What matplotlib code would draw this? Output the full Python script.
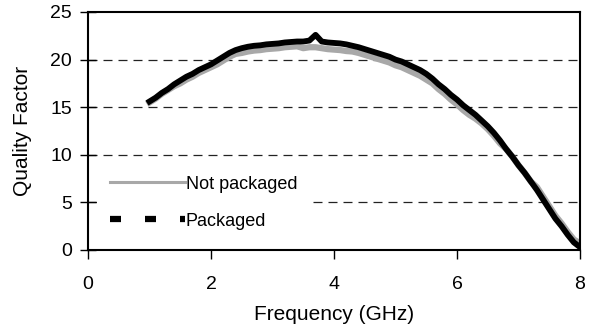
import matplotlib
matplotlib.use("Agg")
import matplotlib.pyplot as plt
from matplotlib.lines import Line2D

plt.rcParams['font.family'] = ['Liberation Sans', 'DejaVu Sans']

freq = [1.0, 1.1, 1.2, 1.3, 1.4, 1.5, 1.6, 1.7, 1.8, 1.9,
        2.0, 2.1, 2.2, 2.3, 2.4, 2.5, 2.6, 2.7, 2.8, 2.9,
        3.0, 3.1, 3.2, 3.3, 3.4, 3.5, 3.6, 3.7, 3.8, 3.9,
        4.0, 4.1, 4.2, 4.3, 4.4, 4.5, 4.6, 4.7, 4.8, 4.9,
        5.0, 5.1, 5.2, 5.3, 5.4, 5.5, 5.6, 5.7, 5.8, 5.9,
        6.0, 6.1, 6.2, 6.3, 6.4, 6.5, 6.6, 6.7, 6.8, 6.9,
        7.0, 7.1, 7.2, 7.3, 7.4, 7.5, 7.6, 7.7, 7.8, 7.9, 8.0]

q_packaged = [15.6, 16.0, 16.5, 16.9, 17.4, 17.8, 18.2, 18.5, 18.9, 19.2,
              19.5, 19.9, 20.3, 20.7, 21.0, 21.2, 21.35, 21.45, 21.5, 21.6,
              21.65, 21.7, 21.8, 21.85, 21.9, 21.9, 22.0, 22.6, 21.9, 21.8,
              21.75, 21.7, 21.6, 21.45, 21.3, 21.1, 20.9, 20.7, 20.5, 20.3,
              20.0, 19.8, 19.5, 19.2, 18.9, 18.5, 18.0, 17.4, 16.9, 16.3,
              15.8, 15.2, 14.7, 14.2, 13.6, 13.0, 12.3, 11.5, 10.6, 9.8,
              8.9, 8.1, 7.2, 6.3, 5.3, 4.3, 3.3, 2.5, 1.6, 0.8, 0.3]

q_not_packaged = [15.5, 15.9, 16.4, 16.8, 17.2, 17.5, 17.9, 18.2, 18.6, 18.9,
                  19.2, 19.5, 19.9, 20.3, 20.6, 20.7, 20.85, 20.95, 21.0, 21.1,
                  21.15, 21.2, 21.3, 21.35, 21.4, 21.2, 21.3, 21.3, 21.2, 21.1,
                  21.05, 21.0, 20.9, 20.85, 20.7, 20.5, 20.3, 20.1, 19.9, 19.7,
                  19.4, 19.2, 18.9, 18.6, 18.3, 17.9, 17.5, 16.9, 16.4, 15.8,
                  15.3, 14.7, 14.2, 13.8, 13.3, 12.7, 12.0, 11.2, 10.6, 9.8,
                  8.9, 8.1, 7.2, 6.6, 5.6, 4.6, 3.6, 2.8, 1.9, 1.1, 0.7]

labels = ["Not packaged", "Packaged"]

fig = plt.figure(figsize=(5.89, 3.30), dpi=100)
ax = fig.add_axes([88/589, 1 - 250/330, 492/589, 238/330])

ax.set_xlim(0, 8)
ax.set_ylim(0, 25)

for yv in [5, 10, 15, 20]:
    ax.axhline(yv, color='#222222', lw=0.9, dashes=(7.2, 4.8), zorder=1)

ax.plot(freq, q_not_packaged, color='#a8a8a8', lw=4.5, zorder=2)
ax.plot(freq, q_packaged, color='black', lw=4.2, zorder=3)

h1 = Line2D([], [], color='#a8a8a8', lw=2.2)
h2 = Line2D([], [], color='black', lw=4.5, dashes=(1.76, 3.84))
leg = ax.legend([h1, h2], labels, loc='upper left', bbox_to_anchor=(0.019, 0.365),
                frameon=True, fancybox=False, edgecolor='none', facecolor='white',
                framealpha=1, fontsize=13, handlelength=4.15, handletextpad=0.05,
                labelspacing=1.1, borderpad=0.7, borderaxespad=0.0)
leg.set_zorder(4)

ax.set_xticks([0, 2, 4, 6, 8])
ax.set_yticks([0, 5, 10, 15, 20, 25])
ax.tick_params(labelsize=14, colors='black', width=1)
ax.tick_params(axis='x', direction='out', length=6.5, pad=12)
ax.tick_params(axis='y', direction='inout', length=11.5, pad=5.8)
for s in ax.spines.values():
    s.set_linewidth(1.5)
    s.set_color('black')

ax.set_xlabel("Frequency (GHz)", fontsize=15)
ax.set_ylabel("Quality Factor", fontsize=15)
ax.xaxis.set_label_coords(0.5, -(314 - 250) / 238)
ax.xaxis.label.set_va('center')
ax.yaxis.set_label_coords(-(88 - 23) / 492, 0.5)
ax.yaxis.label.set_va('center')

fig.savefig("out.png", dpi=100)
